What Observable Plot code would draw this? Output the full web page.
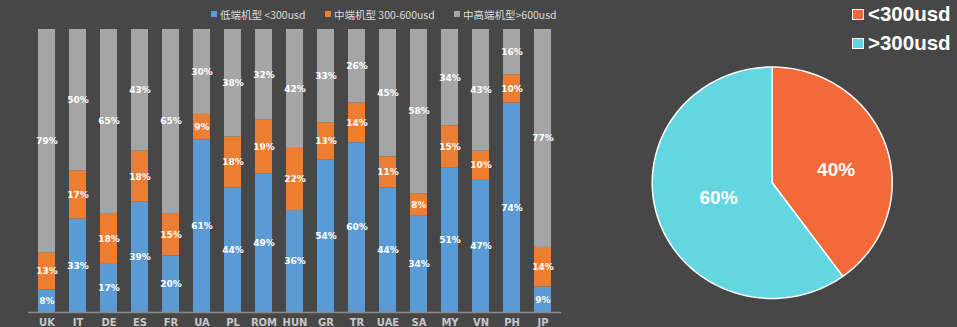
<!DOCTYPE html>
<html><head><meta charset="utf-8">
<script src="https://cdn.jsdelivr.net/npm/d3@7"></script>
<script src="https://cdn.jsdelivr.net/npm/@observablehq/plot@0.6"></script>
<style>
body{margin:0;background:#474747;}
#wrap{position:relative;width:957px;height:327px;background:#474747;overflow:hidden;font-family:"Noto Sans CJK SC","Noto Sans",sans-serif;}
#bars{position:absolute;left:0;top:0;}
#pie{position:absolute;left:620px;top:0;}
.lg{position:absolute;display:flex;align-items:center;color:#dcdcdc;font-size:10.5px;white-space:nowrap;}
.lg i{display:inline-block;width:6px;height:6px;margin-right:3px;}
.pl{position:absolute;display:flex;align-items:center;color:#fff;font:bold 20.5px "Liberation Sans",Arial,sans-serif;}
.pl i{display:inline-block;width:10px;height:9px;border:1px solid #fff;margin-right:4px;}
</style></head>
<body><div id="wrap"><div id="bars"></div><div id="pie"></div></div>
<script>
const countries = ["UK","IT","DE","ES","FR","UA","PL","ROM","HUN","GR","TR","UAE","SA","MY","VN","PH","JP"];
const seriesNames = ["低端机型 <300usd","中端机型 300-600usd","中高端机型>600usd"];
const seriesColors = ["#5b9bd5","#ed7d31","#a5a5a5"];
const lowShare  = [8,33,17,39,20,61,44,49,36,54,60,44,34,51,47,74,9];
const midShare  = [13,17,18,18,15,9,18,19,22,13,14,11,8,15,10,10,14];
const highShare = [79,50,65,43,65,30,38,32,42,33,26,45,58,34,43,16,77];
const pieLabels = ["<300usd",">300usd"];
const pieValues = [40,60];
const pieColors = ["#f4693a","#64d6e2"];

const rows = [];
countries.forEach((c,i)=>{
  [lowShare,midShare,highShare].forEach((arr,k)=>rows.push({country:c, series:seriesNames[k], value:arr[i]}));
});

const bars = Plot.plot({
  width:600, height:327, marginTop:29, marginBottom:15, marginLeft:28, marginRight:39,
  style:{background:"transparent", color:"#cfcfcf"},
  x:{domain:countries, paddingInner:0.46, paddingOuter:0.23, label:null, tickSize:0, tickPadding:5},
  y:{domain:[0,100], axis:null},
  color:{domain:seriesNames, range:seriesColors},
  marks:[
    Plot.barY(rows,{x:"country", y:"value", fill:"series"}),
    Plot.text(rows, Plot.stackY({x:"country", y:"value", z:"series", text:d=>d.value+"%", fill:"#fff", fontSize:9, fontWeight:"bold"})),
    Plot.ruleY([0],{stroke:"#8a8a8a", strokeWidth:1.5}),
    Plot.axisX({tickSize:0, tickPadding:6, fontSize:10, fontWeight:"bold", fill:"#c8c8c8", label:null, style:{letterSpacing:"1.5px"}})
  ]
});
bars.querySelectorAll("text").forEach(t=>t.style.fontFamily='"DejaVu Sans",sans-serif');
document.getElementById("bars").appendChild(bars);

// pie geometry from data
const arcs = d3.pie().sort(null).value(d=>d)(pieValues);
const pts = [];
arcs.forEach((a,i)=>{
  pts.push({s:i, x:0, y:0});
  const n = 90;
  for(let j=0;j<=n;j++){
    const t = a.startAngle + (a.endAngle-a.startAngle)*j/n;
    pts.push({s:i, x:Math.sin(t), y:-Math.cos(t)});
  }
});
const labs = arcs.map((a,i)=>{
  const m=(a.startAngle+a.endAngle)/2;
  const r = i===0?0.56:0.47;
  return {x:r*Math.sin(m), y:-r*Math.cos(m)+(i===0?0.06:-0.01), t:pieValues[i]+"%"};
});
const pie = Plot.plot({
  width:337, height:327, margin:0,
  style:{background:"transparent"},
  x:{domain:[-1,1], range:[31.7,271.7], axis:null},
  y:{domain:[-1,1], range:[66.5,298], axis:null},
  marks:[
    ...arcs.map((a,i)=>Plot.line(pts.filter(p=>p.s===i),{x:"x", y:"y", fill:pieColors[i], stroke:"#ffffff", strokeWidth:1.5, curve:"linear-closed"})),
    Plot.text(labs,{x:"x", y:"y", text:"t", fill:"#fff", fontSize:19, fontWeight:"bold", fontFamily:'"Liberation Sans",Arial,sans-serif'})
  ]
});
document.getElementById("pie").appendChild(pie);

// legends
const wrap = document.getElementById("wrap");
const lgX = [211,325,454];
seriesNames.forEach((s,i)=>{
  const d=document.createElement("div"); d.className="lg";
  d.style.left=lgX[i]+"px"; d.style.top="6px"; d.style.height="16px";
  d.innerHTML=`<i style="background:${seriesColors[i]}"></i>${s}`;
  wrap.appendChild(d);
});
pieLabels.forEach((s,i)=>{
  const d=document.createElement("div"); d.className="pl";
  d.style.left="852px"; d.style.top=(3+i*29)+"px"; d.style.height="22px";
  d.innerHTML=`<i style="background:${pieColors[i]}"></i>${s}`;
  wrap.appendChild(d);
});
</script></body></html>
